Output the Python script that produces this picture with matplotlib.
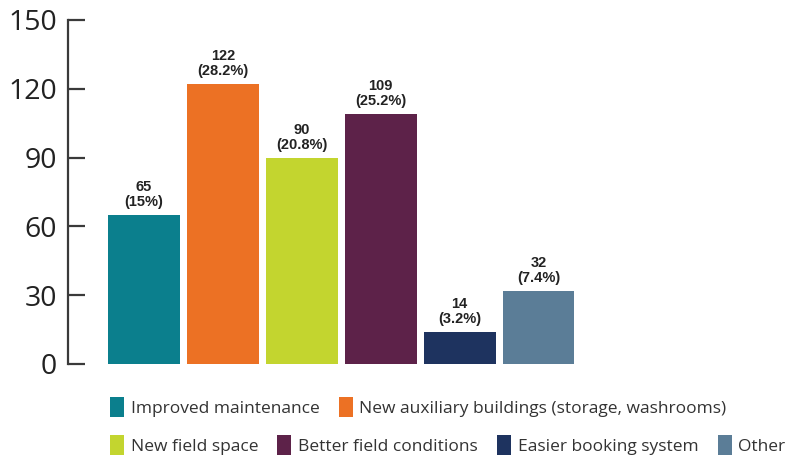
"""
Survey bar chart: requested field improvements.
"""
import matplotlib
matplotlib.use("Agg")
import matplotlib.pyplot as plt
from matplotlib.patches import Patch
import numpy as np

categories = [
    "Improved maintenance",
    "New auxiliary buildings (storage, washrooms)",
    "New field space",
    "Better field conditions",
    "Easier booking system",
    "Other",
]
counts = [65, 122, 90, 109, 14, 32]
shares = ["15%", "28.2%", "20.8%", "25.2%", "3.2%", "7.4%"]
colors = ["#0b7f8d", "#ec7124", "#c3d52f", "#5d2249", "#1e335f", "#5b7d97"]
yticks = [0, 30, 60, 90, 120, 150]

plt.rcParams["font.family"] = ["Open Sans", "DejaVu Sans"]

fig = plt.figure(figsize=(8.01, 4.59), dpi=100)
ax = fig.add_axes([68 / 801, 95 / 459, 589 / 801, 344 / 459])

x = np.arange(len(categories))
bars = ax.bar(x, counts, width=0.91, color=colors)

# count + share above each bar
for xi, c, s in zip(x, counts, shares):
    ax.text(xi, c + 2.5, f"{c}\n({s})", ha="center", va="bottom",
            fontsize=10.5, fontweight="bold", color="#222222",
            family=["Liberation Sans Narrow", "Liberation Sans", "DejaVu Sans"],
            linespacing=1.1)

ax.set_xlim(-0.96, 6.5)
ax.set_ylim(0, 150)
ax.set_yticks(yticks)
ax.set_xticks([])
for side in ["top", "right", "bottom"]:
    ax.spines[side].set_visible(False)
ax.spines["left"].set_color("#3a3a3a")
ax.spines["left"].set_linewidth(1.6)
ax.tick_params(axis="y", direction="in", length=12, width=1.6,
               color="#3a3a3a", labelsize=20.5, labelcolor="#222222", pad=8)

handles = [Patch(facecolor=col) for col in colors]
leg_kw = dict(frameon=False, fontsize=12.5, handlelength=0.8, handleheight=1.35,
              handletextpad=0.4, columnspacing=1.1, borderaxespad=0,
              labelcolor="#333333")
leg1 = fig.legend(handles[:2], categories[:2], ncol=2, loc="center left",
                  bbox_to_anchor=(103 / 801, 1 - 407 / 459), **leg_kw)
leg2 = fig.legend(handles[2:], categories[2:], ncol=4, loc="center left",
                  bbox_to_anchor=(103 / 801, 1 - 445 / 459), **leg_kw)

fig.savefig("out.png", dpi=100)
